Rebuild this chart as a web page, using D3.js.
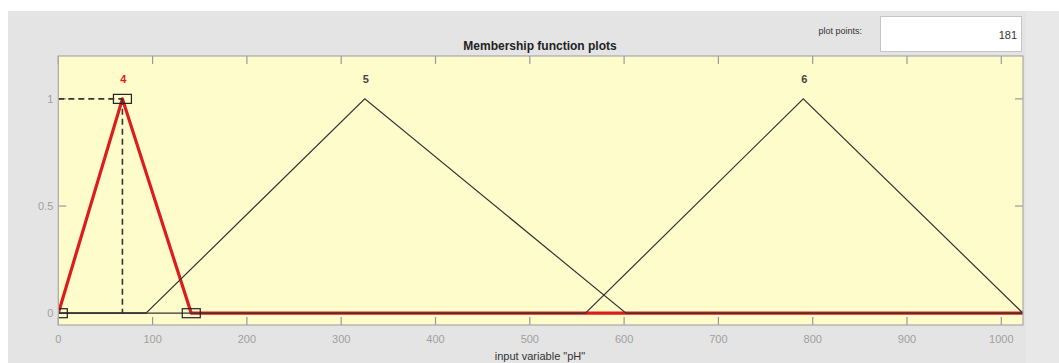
<!DOCTYPE html>
<html>
<head>
<meta charset="utf-8">
<script src="https://cdn.jsdelivr.net/npm/d3@7"></script>
<style>
  html, body { margin: 0; padding: 0; background: #ffffff; }
  svg { display: block; font-family: "Liberation Sans", Arial, Helvetica, sans-serif; }
</style>
</head>
<body>
<svg id="chart" width="1059" height="363"></svg>
<script>
// Membership functions of input variable "pH" (triangular: [a, peak, c])
const mfNames = ["4", "5", "6"];
const mfParams = [[0, 68, 141], [93, 325, 602], [559, 790, 1023]];
const selectedMf = "4";
const xRange = [0, 1023];
const yRange = [-0.055, 1.2];
const xTicks = [0, 100, 200, 300, 400, 500, 600, 700, 800, 900, 1000];
const yTicks = [0, 0.5, 1];
const yTickLabels = ["0", "0.5", "1"];
const titleText = "Membership function plots";
const xLabelText = 'input variable "pH"';
const plotPointsLabel = "plot points:";
const plotPointsValue = "181";

const svg = d3.select("#chart");
const W = 1059, H = 363;
const panel = { x: 8, y: 11 };
const plot = { left: 58.3, top: 56, right: 1023, bottom: 325 };

// window panel background
svg.append("rect").attr("x", panel.x).attr("y", panel.y)
  .attr("width", W - panel.x).attr("height", H - panel.y).attr("fill", "#e4e4e4");
svg.append("rect").attr("x", 1026).attr("y", panel.y)
  .attr("width", W - 1026).attr("height", H - panel.y).attr("fill", "#e8e8e8");

const x = d3.scaleLinear().domain(xRange).range([plot.left, plot.right]);
const y = d3.scaleLinear().domain(yRange).range([plot.bottom, plot.top]);

// plot points field
svg.append("text").attr("x", 862).attr("y", 34).attr("text-anchor", "end")
  .attr("font-size", 9).attr("fill", "#333").text(plotPointsLabel);
svg.append("rect").attr("x", 880.5).attr("y", 16.5).attr("width", 141).attr("height", 35)
  .attr("fill", "#ffffff").attr("stroke", "#c4c4c4");
svg.append("text").attr("x", 1017).attr("y", 39).attr("text-anchor", "end")
  .attr("font-size", 11).attr("fill", "#333").text(plotPointsValue);

// title
svg.append("text").attr("x", 540).attr("y", 50).attr("text-anchor", "middle")
  .attr("font-size", 12).attr("font-weight", "bold").attr("fill", "#222").text(titleText);

// axes background
svg.append("rect").attr("x", plot.left).attr("y", plot.top)
  .attr("width", plot.right - plot.left).attr("height", plot.bottom - plot.top)
  .attr("fill", "#fffccc");

const clip = svg.append("defs").append("clipPath").attr("id", "plotClip");
clip.append("rect").attr("x", plot.left).attr("y", plot.top)
  .attr("width", plot.right - plot.left).attr("height", plot.bottom - plot.top);

// ticks (inward, on all four sides)
const tickLen = 8;
const gTicks = svg.append("g").attr("stroke", "#999").attr("stroke-width", 1.2);
xTicks.forEach(t => {
  const px = x(t);
  gTicks.append("line").attr("x1", px).attr("x2", px).attr("y1", plot.bottom).attr("y2", plot.bottom - tickLen);
  gTicks.append("line").attr("x1", px).attr("x2", px).attr("y1", plot.top).attr("y2", plot.top + tickLen);
});
yTicks.forEach(t => {
  const py = y(t);
  gTicks.append("line").attr("x1", plot.left).attr("x2", plot.left + tickLen).attr("y1", py).attr("y2", py);
  gTicks.append("line").attr("x1", plot.right).attr("x2", plot.right - tickLen).attr("y1", py).attr("y2", py);
});

// tick labels
svg.append("g").selectAll("text").data(xTicks).join("text")
  .attr("x", d => x(d)).attr("y", 343).attr("text-anchor", "middle")
  .attr("font-size", 11).attr("fill", "#a0a0a0").text(d => d);
svg.append("g").selectAll("text").data(yTicks).join("text")
  .attr("x", plot.left - 5).attr("y", d => y(d) + 4).attr("text-anchor", "end")
  .attr("font-size", 11).attr("fill", "#a0a0a0").text((d, i) => yTickLabels[i]);

// x-axis label
svg.append("text").attr("x", 540).attr("y", 360).attr("text-anchor", "middle")
  .attr("font-size", 11).attr("fill", "#333").text(xLabelText);

// membership function polylines
function mfPoints(p) {
  const pts = [];
  if (p[0] > xRange[0]) pts.push([xRange[0], 0]);
  pts.push([p[0], 0], [p[1], 1], [p[2], 0]);
  if (p[2] < xRange[1]) pts.push([xRange[1], 0]);
  return pts;
}
const line = d3.line().x(d => x(d[0])).y(d => y(d[1]));
const gMf = svg.append("g").attr("clip-path", "url(#plotClip)");

const selIdx = mfNames.indexOf(selectedMf);
const selP = mfParams[selIdx];

// dashed guide lines to the selected peak
const gGuide = svg.append("g").attr("stroke", "#333").attr("stroke-width", 1.6)
  .attr("stroke-dasharray", "6,4").attr("fill", "none");
gGuide.append("line").attr("x1", plot.left).attr("x2", x(selP[1]))
  .attr("y1", y(1)).attr("y2", y(1));
gGuide.append("line").attr("x1", x(selP[1])).attr("x2", x(selP[1]))
  .attr("y1", y(1)).attr("y2", y(0));

// selected function in thick red, others thin dark on top
gMf.append("path").datum(mfPoints(selP)).attr("d", line)
  .attr("fill", "none").attr("stroke", "#dd1c1c").attr("stroke-width", 3.2)
  .attr("stroke-linejoin", "round");
mfParams.forEach((p, i) => {
  if (i === selIdx) return;
  gMf.append("path").datum(mfPoints(p)).attr("d", line)
    .attr("fill", "none").attr("stroke", "#333").attr("stroke-width", 1.2);
});
// baseline segment before the first thin function starts
gMf.append("line").attr("x1", x(xRange[0])).attr("x2", x(mfParams[1][0]))
  .attr("y1", y(0)).attr("y2", y(0)).attr("stroke", "#333").attr("stroke-width", 1.2);

// vertex markers of the selected function
gMf.selectAll("rect.vtx").data([[selP[0], 0], [selP[1], 1], [selP[2], 0]]).join("rect")
  .attr("class", "vtx")
  .attr("x", d => x(d[0]) - 9).attr("y", d => y(d[1]) - 4.5)
  .attr("width", 18).attr("height", 9)
  .attr("fill", "none").attr("stroke", "#222").attr("stroke-width", 1.2);

// function names above the peaks
svg.append("g").selectAll("text").data(mfNames).join("text")
  .attr("x", (d, i) => x(mfParams[i][1]) + 1).attr("y", 83)
  .attr("text-anchor", "middle").attr("font-size", 11)
  .attr("font-weight", "bold")
  .attr("fill", d => d === selectedMf ? "#e31a1a" : "#444").text(d => d);

// axes frame
svg.append("rect").attr("x", plot.left).attr("y", plot.top)
  .attr("width", plot.right - plot.left).attr("height", plot.bottom - plot.top)
  .attr("fill", "none").attr("stroke", "#a8a8a8").attr("stroke-width", 1.2);
</script>
</body>
</html>
